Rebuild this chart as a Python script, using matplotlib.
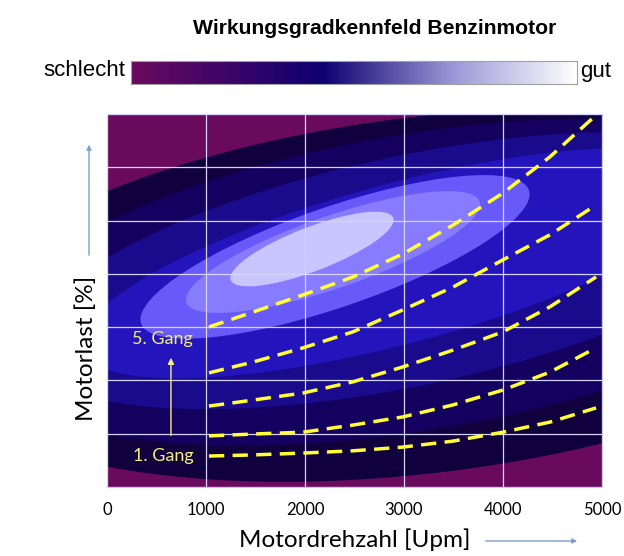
import matplotlib
matplotlib.use("Agg")
import matplotlib.pyplot as plt
import numpy as np
from matplotlib.patches import Ellipse, FancyArrowPatch
from matplotlib.colors import LinearSegmentedColormap
from matplotlib.transforms import Affine2D

# efficiency bands, outermost -> innermost (ellipses, rpm / load %)
band_colors = ['#10003e', '#14005e', '#1a0a8c', '#2414bc', '#675af9', '#877cff', '#c9c5ff']
band_cx = [3212, 3141, 3060, 2960, 2303, 2283, 2071]
band_cy = [51.5, 55.0, 58.0, 60.0, 61.7, 63.0, 63.8]
band_a = [5050, 4500, 3940, 3333, 2071, 1566, 879]      # semi-major (rpm-equivalent)
band_b = [1798, 1495, 1160, 808, 505, 364, 222]         # semi-minor (rpm-equivalent)
band_angle = [7, 9.5, 12, 15, 19, 19, 21]

# gear lines (rpm, load %)
gear_rpm = [1030, 1475, 1980, 2485, 2990, 3495, 4000, 4474, 4940]
gear_load = {
    '1': [8.3, 8.6, 9.1, 9.7, 10.7, 12.3, 14.7, 17.4, 21.2],
    '2': [13.7, 14.2, 14.7, 16.6, 18.8, 22.0, 26.0, 30.8, 37.3],
    '3': [21.7, 23.3, 25.2, 28.2, 32.2, 36.7, 41.6, 48.3, 56.3],
    '4': [30.6, 33.5, 37.3, 41.6, 47.5, 53.6, 60.9, 67.6, 75.6],
    '5': [42.9, 46.9, 51.5, 56.3, 62.5, 70.2, 78.8, 88.5, 99.7],
}

x_ticks = [0, 1000, 2000, 3000, 4000, 5000]
purple = '#6a0a5c'

W, H = 624, 556
fig = plt.figure(figsize=(W / 100, H / 100), dpi=100)
fig.patch.set_facecolor('white')

ax = fig.add_axes([107 / W, 69 / H, 495 / W, 373 / H])
ax.set_facecolor(purple)
ax.set_xlim(0, 5000)
ax.set_ylim(0, 100)

# make ellipses round in screen space: scale load axis to rpm-equivalent
r = (373 / 100) / (495 / 5000)
trans = Affine2D().scale(1, 1 / r) + ax.transData
for col, cx, cy, a, b, ang in zip(band_colors, band_cx, band_cy, band_a, band_b, band_angle):
    e = Ellipse((cx, cy * r), 2 * a, 2 * b, angle=ang, transform=trans,
                facecolor=col, edgecolor='none', zorder=1)
    ax.add_patch(e)

for g, load in gear_load.items():
    ax.plot(gear_rpm, load, color='#ffff33', lw=2.5, dashes=(4.4, 2.4), zorder=4,
            clip_on=False)

ax.set_xticks(x_ticks)
ax.set_xticklabels([str(t) for t in x_ticks], fontsize=12, family='Lato')
ax.set_yticks(np.linspace(0, 100, 8))
ax.set_yticklabels([])
ax.tick_params(length=0, pad=11)
ax.set_axisbelow(False)
ax.grid(color='#d4d4ff', lw=0.9, zorder=3)
for s in ax.spines.values():
    s.set_color('#c8c8e0')
    s.set_linewidth(0.8)

# gear labels
ax.text(556, 39.8, '5. Gang', color='#f4f07a', fontsize=13, family='Lato',
        ha='center', va='center', zorder=5)
ax.text(566, 8.2, '1. Gang', color='#f4f07a', fontsize=13, family='Lato',
        ha='center', va='center', zorder=5)
ax.annotate('', xy=(646, 35.4), xytext=(646, 13.1),
            arrowprops=dict(arrowstyle='-|>', color='#f4f07a', lw=1, mutation_scale=9),
            zorder=5)

# axis labels and arrows
fig.text(355 / W, 1 - 540 / H, 'Motordrehzahl [Upm]', fontsize=17.5, family='Lato',
         ha='center', va='center')
fig.text(86 / W, 1 - 348 / H, 'Motorlast [%]', fontsize=17.5, family='Lato',
         ha='center', va='center', rotation=90)
fig.add_artist(FancyArrowPatch((483 / W, 1 - 541 / H), (580 / W, 1 - 541 / H),
                               transform=fig.transFigure, arrowstyle='-|>',
                               mutation_scale=7, color='#7f9fc8', lw=1))
fig.add_artist(FancyArrowPatch((89 / W, 1 - 258 / H), (89 / W, 1 - 142 / H),
                               transform=fig.transFigure, arrowstyle='-|>',
                               mutation_scale=7, color='#7f9fc8', lw=1))

# title
fig.text(375 / W, 1 - 28 / H, 'Wirkungsgradkennfeld Benzinmotor', fontsize=15.2,
         fontweight='bold', family='Liberation Sans', ha='center', va='center')

# colour scale
cmap = LinearSegmentedColormap.from_list('eff', [(0, '#6b0a5e'), (0.43, '#0e0070'),
                                                 (0.72, '#9a96d6'), (1, '#ffffff')])
cax = fig.add_axes([131 / W, 1 - 84 / H, 446 / W, 23 / H])
cax.imshow(np.linspace(0, 1, 256)[None, :], cmap=cmap, aspect='auto')
cax.set_xticks([])
cax.set_yticks([])
for s in cax.spines.values():
    s.set_color('#a0a0a0')
fig.text(125 / W, 1 - 71 / H, 'schlecht', fontsize=16, family='Liberation Sans',
         ha='right', va='center')
fig.text(580 / W, 1 - 71 / H, 'gut', fontsize=16, family='Liberation Sans',
         ha='left', va='center')

fig.savefig('out.png', dpi=100)
